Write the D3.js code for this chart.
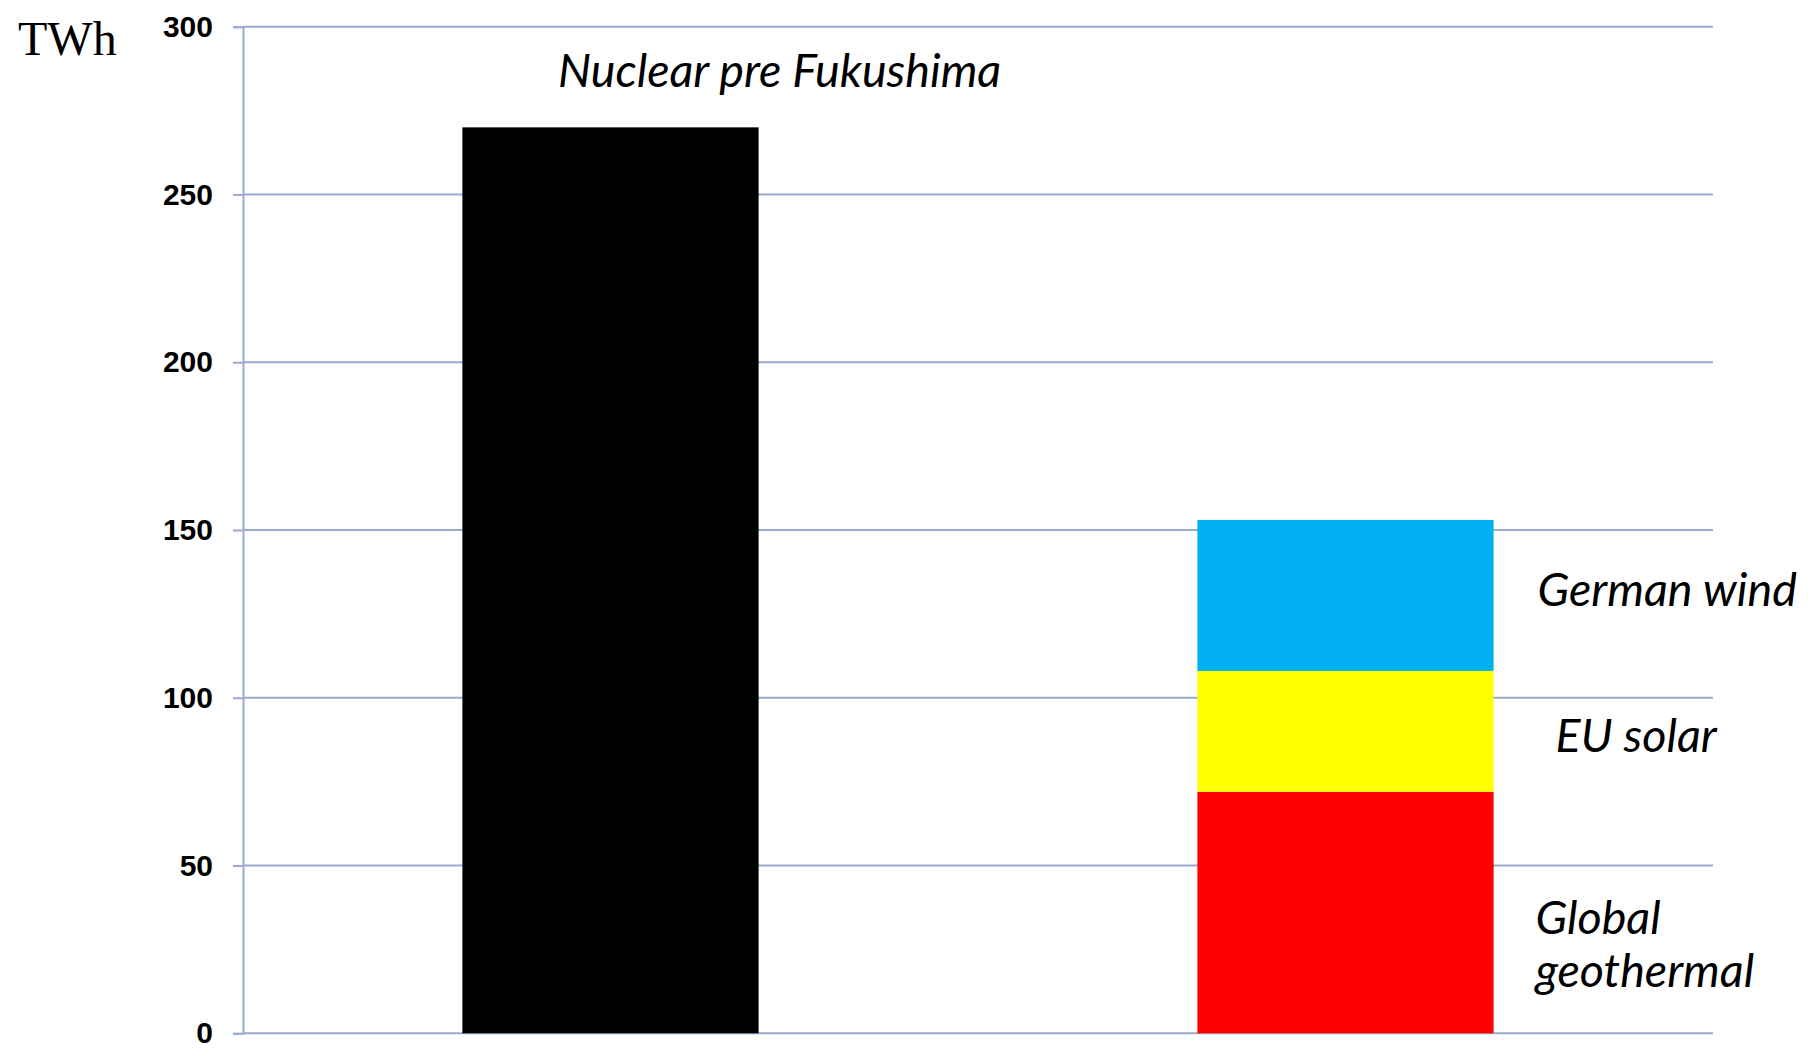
<!DOCTYPE html>
<html>
<head>
<meta charset="utf-8">
<script src="https://cdn.jsdelivr.net/npm/d3@7"></script>
<style>
html,body{margin:0;padding:0;background:#fff;}
svg{display:block;}
</style>
</head>
<body>
<svg id="chart" width="1816" height="1060"></svg>
<script>
// ---- data ----
const categories = ["Nuclear", "Renewables"];
const nuclearValues = [270, 0];
const geothermalValues = [0, 72];
const solarValues = [0, 36];
const windValues = [0, 45];
const seriesNames = ["Nuclear pre Fukushima", "Global geothermal", "EU solar", "German wind"];
const seriesColors = ["#000000", "#ff0000", "#ffff00", "#00b0f0"];
const yTicks = [0, 50, 100, 150, 200, 250, 300];
const yUnit = "TWh";

// ---- layout ----
const W = 1816, H = 1060;
const margin = {left: 243, right: W - 1713, top: 26.7, bottom: H - 1033.3};
const iw = W - margin.left - margin.right;
const ih = H - margin.top - margin.bottom;
const gridColor = "#9aabcb";

const svg = d3.select("#chart");
const g = svg.append("g").attr("transform", `translate(${margin.left},${margin.top})`);

const x = d3.scaleBand().domain(categories).range([0, iw]).paddingInner(0.597).paddingOuter(0.2985);
const y = d3.scaleLinear().domain([0, 300]).range([ih, 0]);

// gridlines
g.append("g").selectAll("line").data(yTicks).join("line")
  .attr("x1", 0).attr("x2", iw)
  .attr("y1", d => y(d)).attr("y2", d => y(d))
  .attr("stroke", gridColor).attr("stroke-width", 2);

// y axis
const yAxis = d3.axisLeft(y).tickValues(yTicks).tickSize(10).tickPadding(20);
const ya = g.append("g").call(yAxis);
ya.select(".domain").attr("stroke", gridColor).attr("stroke-width", 2);
ya.selectAll(".tick line").attr("stroke", gridColor).attr("stroke-width", 2);
ya.selectAll(".tick text")
  .attr("font-family", "'Liberation Sans', Arial, sans-serif")
  .attr("font-weight", "bold").attr("font-size", 30).attr("fill", "#000");

// stacked data
const rows = categories.map((c, i) => ({
  cat: c,
  nuclear: nuclearValues[i],
  geothermal: geothermalValues[i],
  solar: solarValues[i],
  wind: windValues[i]
}));
const keys = ["nuclear", "geothermal", "solar", "wind"];
const stack = d3.stack().keys(keys)(rows);

g.append("g").selectAll("g").data(stack).join("g")
  .attr("fill", (d, i) => seriesColors[i])
  .selectAll("rect").data(d => d.filter(p => p[1] - p[0] > 0)).join("rect")
  .attr("x", d => x(d.data.cat))
  .attr("width", x.bandwidth())
  .attr("y", d => y(d[1]))
  .attr("height", d => y(d[0]) - y(d[1]));

// unit label
svg.append("text").text(yUnit)
  .attr("x", 18).attr("y", 55)
  .attr("font-family", "'Liberation Serif', 'Times New Roman', serif")
  .attr("font-size", 48).attr("fill", "#000");

// series labels
const lblFont = "Lato, 'Open Sans', sans-serif";
const barRight = margin.left + x("Renewables") + x.bandwidth();
const labels = [
  {lines: [seriesNames[0]], x: 558, y: 86.7, w: 442},
  {lines: [seriesNames[3]], x: barRight + 44, y: 605.7, w: 260},
  {lines: [seriesNames[2]], x: barRight + 62, y: 752, w: 158},
  {lines: seriesNames[1].split(" "), x: barRight + 42, y: 934, w: 223}
];
const texts = svg.append("g").selectAll("text").data(labels).join("text")
  .attr("x", d => d.x).attr("y", d => d.y)
  .attr("font-family", lblFont).attr("font-style", "italic")
  .attr("font-size", 40).attr("fill", "#000");
texts.each(function(d){
  const t = d3.select(this);
  d.lines.forEach((ln, i) => {
    t.append("tspan").attr("x", d.x).attr("y", d.y + i * 53).text(ln);
  });
});
// fit common font size to reference widths (widest line of each label)
let ratio = 0, n = 0;
texts.each(function(d){
  let maxW = 0;
  d3.select(this).selectAll("tspan").each(function(){ maxW = Math.max(maxW, this.getComputedTextLength()); });
  ratio += d.w / maxW; n++;
});
ratio /= n;
texts.attr("font-size", 40 * ratio);
</script>
</body>
</html>
